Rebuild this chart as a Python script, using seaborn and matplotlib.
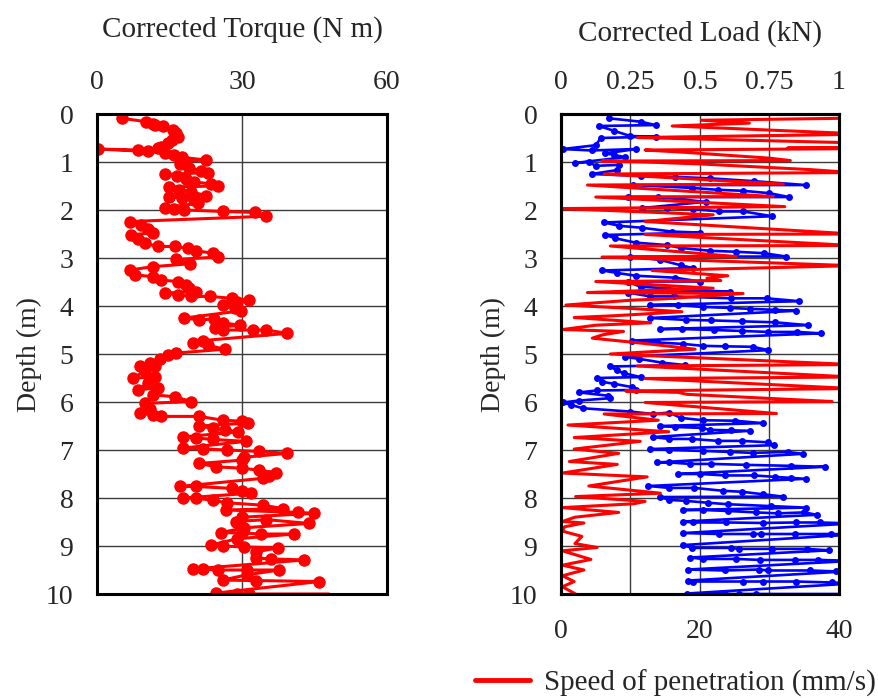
import matplotlib
matplotlib.use("Agg")
import matplotlib.pyplot as plt
import seaborn as sns
from matplotlib.lines import Line2D

# corrected torque (N m) against depth (m), in recording order
torque_depth = [
    0.09, 0.16, 0.20, 0.23, 0.26, 0.33, 0.40, 0.47, 0.55, 0.60, 0.68, 0.71, 0.75, 0.73,
    0.78, 0.82, 0.85, 0.90, 0.96, 0.98, 1.05, 1.12, 1.18, 1.22, 1.26, 1.30, 1.35, 1.42,
    1.45, 1.50, 1.52, 1.58, 1.62, 1.70, 1.72, 1.76, 1.80, 1.86, 1.95, 1.97, 2.00, 2.03,
    2.05, 2.13, 2.24, 2.31, 2.40, 2.47, 2.52, 2.60, 2.69, 2.76, 2.76, 2.80, 2.85, 2.90,
    2.98, 3.03, 3.12, 3.18, 3.25, 3.35, 3.39, 3.46, 3.49, 3.56, 3.62, 3.70, 3.73, 3.77,
    3.80, 3.80, 3.84, 3.88, 3.92, 3.98, 4.05, 4.10, 4.25, 4.29, 4.27, 4.35, 4.40, 4.45,
    4.50, 4.50, 4.50, 4.57, 4.72, 4.77, 4.82, 4.90, 4.98, 5.02, 5.10, 5.18, 5.26, 5.24,
    5.35, 5.50, 5.48, 5.60, 5.75, 5.70, 5.85, 5.89, 5.99, 6.03, 6.15, 6.23, 6.27, 6.30,
    6.30, 6.38, 6.40, 6.44, 6.50, 6.55, 6.58, 6.62, 6.73, 6.75, 6.78, 6.82, 6.96, 6.98,
    7.00, 7.03, 7.07, 7.15, 7.21, 7.28, 7.35, 7.38, 7.42, 7.48, 7.55, 7.59, 7.76, 7.76,
    7.80, 7.85, 7.90, 8.00, 8.00, 8.05, 8.10, 8.15, 8.22, 8.25, 8.30, 8.32, 8.40, 8.49,
    8.45, 8.53, 8.62, 8.72, 8.73, 8.75, 8.75, 8.85, 8.98, 9.00, 9.02, 9.04, 9.12, 9.25,
    9.27, 9.29, 9.48, 9.48, 9.50, 9.50, 9.50, 9.60, 9.71, 9.72, 9.74, 9.98, 10.00, 10.00,
    10.00,
]
torque = [
    5.1, 10.2, 11.5, 12.0, 13.6, 15.7, 16.4, 16.7, 15.5, 14.7, 13.2, 12.6, 8.5, 0.2,
    10.5, 14.0, 16.0, 17.5, 22.6, 18.0, 17.2, 19.0, 21.5, 23.0, 14.0, 16.5, 18.5, 20.0,
    23.5, 25.0, 15.0, 17.0, 19.5, 22.5, 15.0, 17.5, 20.0, 21.0, 14.0, 16.0, 18.0, 26.0,
    32.6, 35.0, 6.8, 9.2, 10.5, 11.6, 7.1, 8.5, 9.9, 12.6, 16.1, 18.8, 20.5, 24.0,
    25.0, 16.4, 19.2, 11.6, 6.8, 7.8, 11.6, 13.3, 16.7, 18.5, 19.0, 20.5, 14.0, 16.7,
    19.5, 23.3, 28.0, 31.5, 29.0, 26.0, 28.5, 29.8, 18.1, 21.2, 24.3, 26.0, 29.5, 24.5,
    26.0, 32.2, 35.0, 39.4, 21.9, 19.8, 23.0, 26.4, 16.4, 14.7, 13.0, 11.0, 8.9, 12.0,
    10.0, 7.5, 12.0, 10.5, 8.5, 12.6, 11.5, 16.1, 19.5, 9.9, 11.0, 8.9, 11.5, 13.3,
    21.2, 26.0, 30.1, 31.2, 21.2, 24.0, 26.5, 29.1, 17.8, 20.5, 24.0, 30.8, 17.8, 22.0,
    27.0, 33.6, 39.4, 30.5, 30.1, 21.2, 24.7, 30.0, 33.6, 37.0, 35.5, 34.3, 17.1, 20.5,
    28.0, 30.0, 31.9, 17.8, 20.5, 24.0, 27.0, 34.3, 38.5, 26.7, 41.5, 45.0, 30.0, 28.8,
    35.0, 43.9, 30.5, 25.7, 30.0, 34.0, 40.8, 29.0, 23.6, 26.0, 30.5, 37.4, 33.0, 32.9,
    36.0, 42.9, 19.8, 22.0, 25.0, 31.0, 37.7, 31.0, 26.0, 33.0, 46.0, 24.7, 29.0, 31.5,
    48.0,
]

# corrected load (kN) against depth (m)
load_depth = [
    0.09, 0.16, 0.23, 0.25, 0.35, 0.46, 0.47, 0.50, 0.65, 0.73, 0.76, 0.73, 0.82, 0.85,
    0.90, 1.02, 1.00, 1.08, 1.06, 1.17, 1.25, 1.29, 1.31, 1.34, 1.40, 1.48, 1.48, 1.54,
    1.58, 1.60, 1.65, 1.73, 1.73, 1.73, 1.83, 1.96, 1.96, 1.98, 2.03, 2.03, 2.13, 2.26,
    2.33, 2.37, 2.45, 2.47, 2.52, 2.59, 2.68, 2.73, 2.79, 2.85, 2.87, 2.90, 2.97, 2.97,
    3.04, 3.15, 3.21, 3.26, 3.31, 3.37, 3.41, 3.49, 3.49, 3.60, 3.63, 3.68, 3.70, 3.72,
    3.80, 3.80, 3.84, 3.84, 3.90, 3.98, 3.98, 4.02, 4.04, 4.06, 4.08, 4.10, 4.25, 4.29,
    4.30, 4.32, 4.34, 4.40, 4.48, 4.48, 4.50, 4.52, 4.54, 4.54, 4.57, 4.72, 4.76, 4.79,
    4.83, 4.84, 4.85, 4.92, 5.06, 5.10, 5.18, 5.23, 5.26, 5.34, 5.40, 5.48, 5.50, 5.58,
    5.62, 5.69, 5.75, 5.76, 5.80, 5.87, 5.92, 5.97, 6.01, 6.06, 6.13, 6.20, 6.25, 6.22,
    6.33, 6.38, 6.39, 6.44, 6.50, 6.52, 6.54, 6.58, 6.59, 6.60, 6.73, 6.77, 6.77, 6.81,
    6.81, 6.84, 6.90, 6.98, 7.00, 7.02, 7.04, 7.06, 7.04, 7.08, 7.26, 7.26, 7.29, 7.29,
    7.31, 7.33, 7.35, 7.50, 7.50, 7.53, 7.53, 7.56, 7.58, 7.60, 7.75, 7.79, 7.79, 7.85,
    7.87, 7.92, 7.97, 7.98, 8.04, 8.06, 8.10, 8.13, 8.17, 8.20, 8.25, 8.25, 8.27, 8.30,
    8.32, 8.30, 8.35, 8.49, 8.51, 8.51, 8.52, 8.51, 8.51, 8.53, 8.73, 8.75, 8.75, 8.75,
    8.75, 8.75, 8.76, 8.98, 9.04, 9.04, 9.06, 9.06, 9.06, 9.09, 9.24, 9.27, 9.27, 9.29,
    9.29, 9.29, 9.31, 9.49, 9.51, 9.49, 9.51, 9.51, 9.53, 9.52, 9.72, 9.74, 9.74, 9.74,
    9.74, 9.76, 9.78, 9.99, 10.00, 10.00, 10.00, 10.00,
]
load = [
    0.173, 0.286, 0.34, 0.136, 0.19, 0.25, 0.34, 0.143, 0.125, 0.006, 0.11, 0.27, 0.16, 0.19,
    0.23, 0.05, 0.10, 0.125, 0.21, 0.20, 0.11, 0.286, 0.41, 0.536, 0.696, 0.88, 0.26, 0.47,
    0.565, 0.655, 0.75, 0.82, 0.24, 0.35, 0.52, 0.29, 0.38, 0.475, 0.57, 0.655, 0.76, 0.155,
    0.21, 0.29, 0.40, 0.50, 0.16, 0.196, 0.268, 0.38, 0.43, 0.536, 0.63, 0.73, 0.81, 0.25,
    0.357, 0.43, 0.475, 0.149, 0.20, 0.27, 0.41, 0.50, 0.24, 0.286, 0.38, 0.51, 0.607, 0.24,
    0.32, 0.405, 0.613, 0.74, 0.857, 0.32, 0.42, 0.51, 0.607, 0.68, 0.77, 0.845, 0.32, 0.45,
    0.54, 0.65, 0.77, 0.89, 0.357, 0.435, 0.55, 0.65, 0.745, 0.85, 0.935, 0.256, 0.345, 0.44,
    0.51, 0.59, 0.69, 0.746, 0.23, 0.28, 0.363, 0.446, 0.178, 0.20, 0.225, 0.286, 0.13, 0.149,
    0.19, 0.256, 0.268, 0.13, 0.065, 0.17, 0.178, 0.065, 0.006, 0.036, 0.078, 0.25, 0.33, 0.39,
    0.43, 0.51, 0.625, 0.725, 0.357, 0.41, 0.506, 0.536, 0.613, 0.68, 0.33, 0.39, 0.47, 0.565,
    0.65, 0.745, 0.766, 0.32, 0.39, 0.51, 0.607, 0.69, 0.815, 0.87, 0.345, 0.39, 0.464, 0.54,
    0.667, 0.827, 0.95, 0.42, 0.50, 0.59, 0.696, 0.77, 0.827, 0.88, 0.314, 0.39, 0.48, 0.583,
    0.65, 0.725, 0.797, 0.357, 0.39, 0.45, 0.53, 0.60, 0.756, 0.88, 0.44, 0.51, 0.60, 0.70,
    0.78, 0.875, 0.92, 0.44, 0.475, 0.595, 0.725, 0.845, 0.93, 1.05, 0.44, 0.57, 0.69, 0.72,
    0.84, 0.97, 1.05, 0.44, 0.47, 0.613, 0.64, 0.76, 0.886, 0.964, 0.464, 0.51, 0.63, 0.717,
    0.84, 0.926, 1.05, 0.458, 0.59, 0.712, 0.744, 0.896, 0.99, 1.05, 0.458, 0.475, 0.655, 0.726,
    0.845, 0.974, 1.05, 0.452, 0.59, 0.64, 0.70, 1.05,
]

# speed of penetration (mm/s) against depth (m)
speed_depth = [
    0.08, 0.13, 0.19, 0.25, 0.42, 0.49, 0.60, 0.69, 0.71, 0.72, 0.75, 0.80, 0.86, 0.92,
    0.97, 0.98, 1.00, 1.04, 1.10, 1.16, 1.22, 1.25, 1.46, 1.48, 1.72, 1.73, 1.93, 1.97,
    2.10, 2.24, 2.50, 2.51, 2.74, 2.75, 2.97, 2.98, 3.16, 3.26, 3.37, 3.42, 3.47, 3.49,
    3.63, 3.72, 3.74, 3.85, 3.88, 3.98, 4.05, 4.12, 4.20, 4.24, 4.35, 4.40, 4.49, 4.53,
    4.60, 4.67, 4.78, 4.90, 5.00, 5.22, 5.25, 5.48, 5.51, 5.72, 5.77, 5.80, 5.84, 5.99,
    6.01, 6.24, 6.25, 6.38, 6.48, 6.62, 6.74, 6.82, 6.98, 7.07, 7.24, 7.30, 7.48, 7.56,
    7.75, 7.90, 7.97, 8.07, 8.12, 8.20, 8.30, 8.40, 8.49, 8.52, 8.60, 8.69, 8.80, 8.95,
    9.03, 9.10, 9.28, 9.40, 9.50, 9.62, 9.74, 9.85, 10.00,
]
speed = [
    45.0, 20.2, 27.1, 16.0, 44.0, 11.0, 42.0, 48.0, 32.6, 45.0, 12.1, 18.0, 24.0, 30.0,
    33.0, 5.9, 12.0, 20.0, 28.0, 36.0, 42.0, 6.2, 32.0, 3.8, 30.5, 5.0, 32.2, 0.2,
    21.9, 12.1, 42.0, 12.1, 42.0, 7.1, 25.2, 5.9, 42.0, 13.1, 24.0, 21.0, 23.0, 5.0,
    21.9, 3.8, 26.2, 15.0, 10.0, 0.7, 10.0, 17.4, 8.0, 1.9, 12.9, 5.0, 0.2, 9.0,
    6.0, 4.5, 12.0, 19.3, 7.1, 42.0, 11.0, 42.0, 12.1, 42.0, 9.3, 16.9, 18.1, 39.0,
    12.1, 31.0, 6.2, 14.0, 1.0, 15.5, 1.9, 11.4, 1.9, 8.3, 1.2, 8.1, 0.2, 12.4,
    4.0, 14.3, 2.1, 12.1, 10.5, 0.2, 8.3, 2.0, 0.2, 3.3, 0.5, 0.2, 3.0, 2.0,
    5.2, 0.2, 4.3, 0.2, 3.3, 0.2, 1.9, 0.2, 2.1,
]

torque_ticks = [0, 30, 60]
load_ticks = [0, 0.25, 0.5, 0.75, 1]
load_labels = ["0", "0.25", "0.5", "0.75", "1"]
speed_ticks = [0, 20, 40]
depth_ticks = list(range(0, 11))

sns.set_style("white")
plt.rcParams["font.family"] = ["Liberation Serif", "DejaVu Serif"]
plt.rcParams["font.size"] = 20

RED = "#ff0000"
BLUE = "#0000ff"
GRID = "#3c3c3c"
TITLE_SIZE = 21

fig = plt.figure(figsize=(8.79, 6.98), dpi=100)
ax_t = fig.add_axes([97 / 879, 1 - 594 / 698, 290 / 879, 480 / 698])
ax_l = fig.add_axes([561 / 879, 1 - 594 / 698, 278 / 879, 480 / 698])


def style_depth_axis(ax):
    ax.set_ylim(10, 0)
    ax.set_yticks(depth_ticks)
    ax.set_ylabel("Depth (m)", labelpad=3, fontsize=20)
    ax.grid(True, axis="both", color=GRID, linewidth=1.0)
    ax.set_axisbelow(True)
    for s in ax.spines.values():
        s.set_visible(True)
        s.set_color("black")
        s.set_linewidth(2.2)
    ax.tick_params(axis="y", length=0, pad=17, labelsize=20)


# torque panel
sns.lineplot(x=torque, y=torque_depth, sort=False, estimator=None, color=RED,
             marker="o", markersize=9, markeredgewidth=0, linewidth=2.2,
             markevery=list(range(len(torque) - 1)), ax=ax_t)
ax_t.set_xlim(0, 60)
ax_t.set_xticks(torque_ticks)
ax_t.xaxis.tick_top()
ax_t.xaxis.set_label_position("top")
ax_t.set_xlabel("Corrected Torque (N m)", labelpad=24, fontsize=TITLE_SIZE)
ax_t.tick_params(axis="x", length=0, pad=14, labelsize=20)
style_depth_axis(ax_t)

# load panel (top axis) with speed on a twin (bottom axis)
sns.lineplot(x=load, y=load_depth, sort=False, estimator=None, color=BLUE,
             marker="o", markersize=5, markeredgewidth=0, linewidth=1.9, ax=ax_l)
ax_l.set_xlim(0, 1)
style_depth_axis(ax_l)

ax_s = ax_l.twiny()
sns.lineplot(x=speed, y=speed_depth, sort=False, estimator=None, color=RED,
             linewidth=2.2, ax=ax_s)
ax_s.set_xlim(0, 40)
ax_s.set_ylim(10, 0)
ax_s.set_xticks(speed_ticks)
ax_s.xaxis.tick_bottom()
ax_s.xaxis.set_label_position("bottom")
ax_s.set_xlabel("")
ax_s.grid(False)
ax_s.tick_params(axis="x", length=0, pad=18, labelsize=20)
for s in ax_s.spines.values():
    s.set_color("black")
    s.set_linewidth(2.2)

# twiny moves the parent's ticks to the bottom, so put load back on top
ax_l.set_xticks(load_ticks)
ax_l.set_xticklabels(load_labels)
ax_l.xaxis.tick_top()
ax_l.xaxis.set_label_position("top")
ax_l.set_xlabel("Corrected Load (kN)", labelpad=21, fontsize=TITLE_SIZE)
ax_l.tick_params(axis="x", length=0, pad=14, labelsize=20)

handle = Line2D([], [], color=RED, linewidth=3.5)
fig.legend([handle], ["Speed of penetration (mm/s)"], loc="center left",
           bbox_to_anchor=(475 / 879, 1 - 683 / 698), frameon=False,
           borderpad=0, borderaxespad=0,
           handlelength=1.9, handletextpad=0.45, fontsize=21)

fig.savefig("out.png", dpi=100)
